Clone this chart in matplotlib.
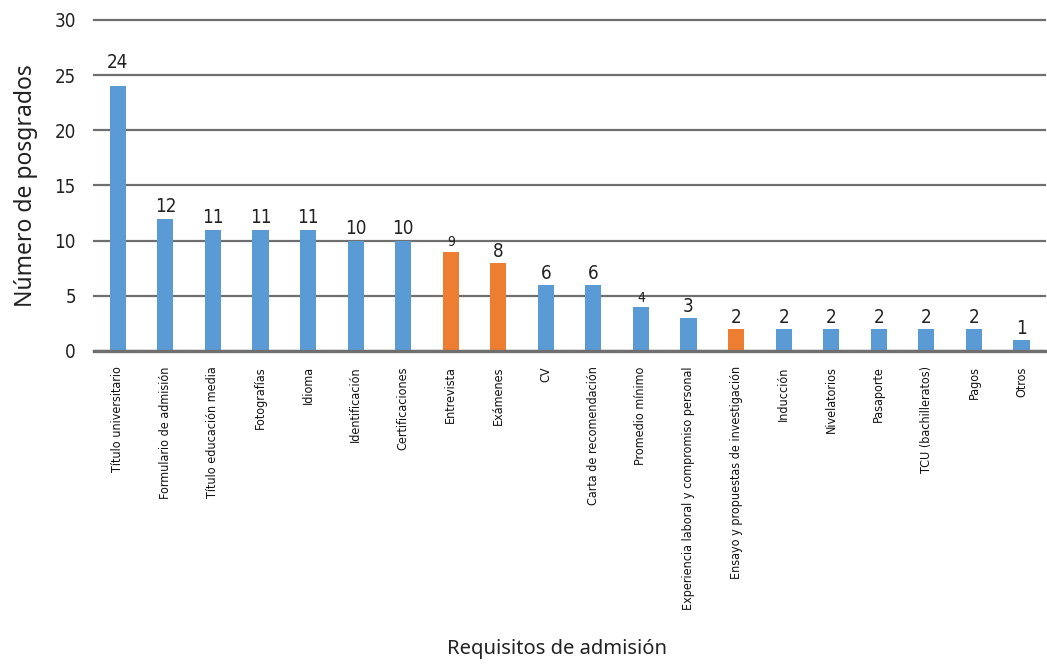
import numpy as np
import matplotlib.pyplot as plt
from matplotlib import font_manager

categorias = ["Título universitario", "Formulario de admisión", "Título educación media",
              "Fotografías", "Idioma", "Identificación", "Certificaciones", "Entrevista",
              "Exámenes", "CV", "Carta de recomendación", "Promedio mínimo",
              "Experiencia laboral y compromiso personal",
              "Ensayo y propuestas de investigación", "Inducción", "Nivelatorios",
              "Pasaporte", "TCU (bachilleratos)", "Pagos", "Otros"]
valores = [24, 12, 11, 11, 11, 10, 10, 9, 8, 6, 6, 4, 3, 2, 2, 2, 2, 2, 2, 1]
destacados = ["Entrevista", "Exámenes", "Ensayo y propuestas de investigación"]
# the reference prints some value labels smaller
etiquetas_pequenas = ["Entrevista", "Promedio mínimo"]

azul = "#5B9BD5"
naranja = "#ED7D31"

# condensed face for ticks and value labels
nombres = {f.name for f in font_manager.fontManager.ttflist}
if "Liberation Sans Narrow" in nombres:
    narrow = dict(family="Liberation Sans Narrow")
else:
    narrow = dict(family="DejaVu Sans", stretch="condensed")

fig = plt.figure(figsize=(10.47, 6.64), dpi=100)
ax = fig.add_axes([0.0898, 0.4714, 0.9085, 0.4985])

x = np.arange(len(categorias))
colores = [naranja if c in destacados else azul for c in categorias]
bars = ax.bar(x, valores, width=0.34, color=colores, zorder=3)

for b, c, v in zip(bars, categorias, valores):
    fs = 10 if c in etiquetas_pequenas else 13.5
    # label sits above a gridline when it would touch one
    off = 1.3 if (v % 5) >= 4 and v > 20 else 0.2
    ax.text(b.get_x() + b.get_width() / 2, v + off, str(v), ha="center", va="bottom",
            fontsize=fs, color="#222222", zorder=4, **narrow)

ax.set_xlim(-0.5, len(categorias) - 0.5)
ax.set_ylim(0, 30)
ax.set_yticks(range(0, 31, 5))
ax.yaxis.grid(True, color="#6f6f6f", linewidth=1.6, zorder=0)
for gl in ax.get_ygridlines():
    gl.set_clip_on(False)
ax.set_axisbelow(True)
for s in ["top", "right", "left"]:
    ax.spines[s].set_visible(False)
ax.spines["bottom"].set_color("#6f6f6f")
ax.spines["bottom"].set_linewidth(2.4)
ax.spines["bottom"].set_zorder(5)

ax.set_xticks(x)
ax.set_xticklabels(categorias, rotation=90, fontsize=9, color="#111111", **narrow)
ax.tick_params(axis="x", length=0, pad=11)
ax.tick_params(axis="y", length=0, pad=13)
for t in ax.get_yticklabels():
    t.set_fontsize(13.5)
    t.set_color("#222222")
    for k, val in narrow.items():
        getattr(t, "set_" + k)(val)

ax.set_ylabel("Número de posgrados", fontsize=16.5, family="Noto Sans", color="#222222", labelpad=12)
fig.text(0.532, 0.022, "Requisitos de admisión", ha="center", va="center",
         fontsize=14.5, family="Noto Sans", color="#222222")

plt.savefig("out.png", dpi=100)
